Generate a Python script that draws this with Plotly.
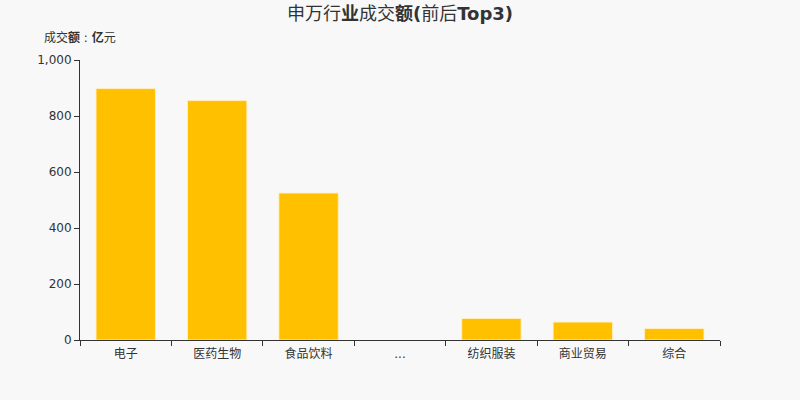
import plotly.graph_objects as go

categories = ["电子", "医药生物", "食品饮料", "...", "纺织服装", "商业贸易", "综合"]
values = [898, 855, 525, None, 77, 64, 41]
y_ticks = [0, 200, 400, 600, 800, 1000]

font_family = "DejaVu Sans, Noto Sans CJK SC, sans-serif"

fig = go.Figure(go.Bar(
    x=categories, y=values,
    marker=dict(color="#ffc000", line=dict(color="rgba(255,240,200,0.9)", width=1)),
    hoverinfo="x+y",
))

fig.update_layout(
    width=800, height=400,
    paper_bgcolor="#f8f8f8", plot_bgcolor="#f8f8f8",
    margin=dict(l=80, r=80, t=60, b=60),
    bargap=0.35,
    showlegend=False,
    font=dict(family=font_family, size=12, color="#333"),
    title=dict(text="申万行<b>业</b>成交<b>额(</b>前后<b>Top3)</b>", x=0.5, xanchor="center",
               y=0.965, yanchor="middle", font=dict(size=18, color="#333")),
    annotations=[dict(text="成交<b>额</b> : <b>亿</b>元", xref="paper", yref="paper",
                      x=-0.06, y=1.045, xanchor="left", yanchor="bottom",
                      showarrow=False, font=dict(size=12, color="#333"))],
)
fig.update_xaxes(
    type="category", showline=True, linecolor="#333", linewidth=1,
    ticks="outside", tickson="boundaries", ticklen=5, tickcolor="#333",
    showgrid=False, tickfont=dict(size=12, color="#333"), ticklabelstandoff=3,
)
fig.update_yaxes(
    range=[0, 1000], showline=True, linecolor="#333", linewidth=1,
    ticks="outside", ticklen=5, tickcolor="#333", showgrid=False, zeroline=False,
    tickvals=y_ticks, tickformat=",d", tickfont=dict(size=12, color="#333"),
)

fig.write_html("out.html", config={"displayModeBar": False},
               post_script="document.body.style.margin='0';")
